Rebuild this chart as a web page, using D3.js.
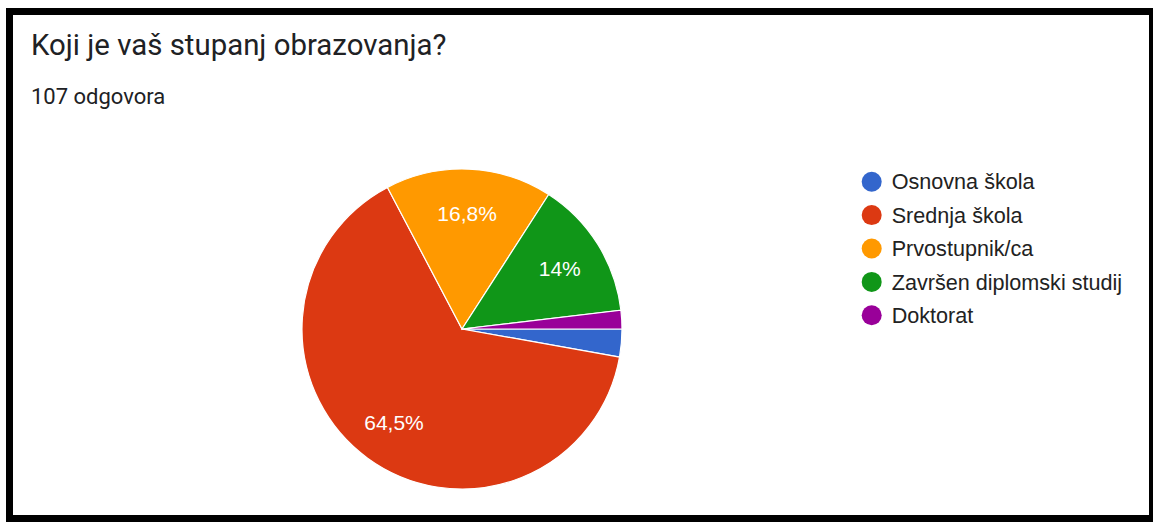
<!DOCTYPE html>
<html>
<head>
<meta charset="utf-8">
<script src="https://cdn.jsdelivr.net/npm/d3@7"></script>
<style>
  html, body { margin: 0; padding: 0; background: #fff; }
  svg { display: block; }
</style>
</head>
<body>
<svg id="chart" width="1153" height="522"></svg>
<script>
const title = "Koji je vaš stupanj obrazovanja?";
const subtitle = "107 odgovora";
const categories = ["Osnovna škola", "Srednja škola", "Prvostupnik/ca", "Završen diplomski studij", "Doktorat"];
const counts = [3, 69, 18, 15, 2];
const colors = ["#3366cc", "#dc3912", "#ff9900", "#109618", "#990099"];

const W = 1153, H = 522;
const svg = d3.select("#chart");

// frame
svg.append("rect").attr("x", 0).attr("y", 0).attr("width", W).attr("height", H).attr("fill", "#fff");
svg.append("rect").attr("x", 6).attr("y", 8).attr("width", W - 6).attr("height", H - 8).attr("fill", "#000");
svg.append("rect").attr("x", 13).attr("y", 15).attr("width", 1149 - 13).attr("height", 515 - 15).attr("fill", "#fff");

svg.append("text").attr("x", 31).attr("y", 55)
  .attr("font-family", "Roboto, sans-serif").attr("font-size", 29.4)
  .attr("fill", "#202124").text(title);
svg.append("text").attr("x", 31).attr("y", 104)
  .attr("font-family", "Roboto, sans-serif").attr("font-size", 22)
  .attr("fill", "#202124").text(subtitle);

const total = d3.sum(counts);
const data = categories.map((c, i) => ({ cat: c, value: counts[i], color: colors[i] }));

const cx = 462, cy = 329, r = 160;
const pie = d3.pie().value(d => d.value).sort(null)
  .startAngle(Math.PI / 2).endAngle(Math.PI / 2 + 2 * Math.PI);
const arcs = pie(data);
const arc = d3.arc().innerRadius(0).outerRadius(r);
const labelArc = d3.arc().innerRadius(r * 0.72).outerRadius(r * 0.72);

const g = svg.append("g").attr("transform", `translate(${cx},${cy})`);
g.selectAll("path").data(arcs).join("path")
  .attr("d", arc).attr("fill", d => d.data.color)
  .attr("stroke", "#fff").attr("stroke-width", 1.2);

const fmt = v => d3.format(".1f")(v).replace(/\.0$/, "").replace(".", ",") + "%";
const lblSize = 21;
g.selectAll("text.lbl").data(arcs.filter(d => d.data.value / total > 0.05)).join("text")
  .attr("class", "lbl")
  .attr("x", d => labelArc.centroid(d)[0])
  .attr("y", d => labelArc.centroid(d)[1] + lblSize * 0.358)
  .attr("text-anchor", "middle")
  .attr("font-family", "Arial, 'Liberation Sans', sans-serif").attr("font-size", lblSize)
  .attr("fill", "#fff")
  .text(d => fmt(d.data.value / total * 100));

// legend
const legY = d3.scalePoint().domain(categories).range([181.7, 315.3]);
const leg = svg.append("g");
const items = leg.selectAll("g").data(data).join("g")
  .attr("transform", d => `translate(871.7,${legY(d.cat)})`);
items.append("circle").attr("r", 10).attr("fill", d => d.color);
items.append("text").attr("x", 20).attr("y", 21.6 * 0.358)
  .attr("font-family", "Arial, 'Liberation Sans', sans-serif").attr("font-size", 21.6)
  .attr("fill", "#222").text(d => d.cat);
</script>
</body>
</html>
